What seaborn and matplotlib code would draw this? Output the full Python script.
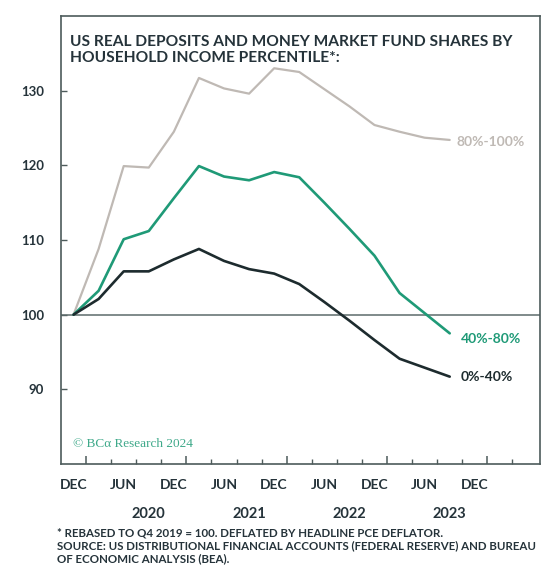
import matplotlib
matplotlib.use("Agg")
import matplotlib.pyplot as plt
import seaborn as sns
import pandas as pd

# Quarterly observations, Q4 2019 = 100
quarters = ["2019Q4", "2020Q1", "2020Q2", "2020Q3", "2020Q4", "2021Q1", "2021Q2", "2021Q3",
            "2021Q4", "2022Q1", "2022Q2", "2022Q3", "2022Q4", "2023Q1", "2023Q2", "2023Q3"]
top_80_100 = [100.0, 108.8, 119.9, 119.7, 124.5, 131.7, 130.3, 129.6,
              133.0, 132.5, 130.2, 127.9, 125.4, 124.5, 123.7, 123.4]
mid_40_80 = [100.0, 103.2, 110.1, 111.2, 115.6, 119.9, 118.5, 118.0,
             119.1, 118.4, 115.0, 111.5, 107.9, 102.9, 100.2, 97.5]
low_0_40 = [100.0, 102.1, 105.8, 105.8, 107.4, 108.8, 107.2, 106.1,
            105.5, 104.1, 101.7, 99.2, 96.6, 94.1, 92.9, 91.7]

series_names = ["80%-100%", "40%-80%", "0%-40%"]
month_labels = ["DEC", "JUN", "DEC", "JUN", "DEC", "JUN", "DEC", "JUN", "DEC"]
year_labels = ["2020", "2021", "2022", "2023"]
y_ticks = [90, 100, 110, 120, 130]

title_text = "US REAL DEPOSITS AND MONEY MARKET FUND SHARES BY\nHOUSEHOLD INCOME PERCENTILE*:"
footnote = ("* REBASED TO Q4 2019 = 100. DEFLATED BY HEADLINE PCE DEFLATOR.\n"
            "SOURCE: US DISTRIBUTIONAL FINANCIAL ACCOUNTS (FEDERAL RESERVE) AND BUREAU\n"
            "OF ECONOMIC ANALYSIS (BEA).")

TEXT = "#25333a"
FRAME = "#4d5b5b"
colors = {"80%-100%": "#bfb9b4", "40%-80%": "#1f9a77", "0%-40%": "#1d2b2e"}

rows = []
for name, vals in zip(series_names, [top_80_100, mid_40_80, low_0_40]):
    for i, (q, v) in enumerate(zip(quarters, vals)):
        rows.append({"t": i, "quarter": q, "series": name, "value": v})
df = pd.DataFrame(rows)

sns.set_theme(style="white")
plt.rcParams["font.family"] = ["Lato", "DejaVu Sans"]

fig = plt.figure(figsize=(5.47, 5.66), dpi=100)
ax = fig.add_axes([61 / 547, 1 - 464 / 566, 479 / 547, 448 / 566])

ax.axhline(100, color="#5c6b6b", lw=1.1, zorder=1)
sns.lineplot(data=df, x="t", y="value", hue="series", hue_order=series_names,
             palette=colors, ax=ax, legend=False, zorder=3)
for line, lw in zip(ax.lines[1:], [1.6, 1.9, 1.9]):
    line.set_linewidth(lw)

ax.set_xlim(-0.5, 18.6)
ax.set_ylim(80, 140)
ax.set_xlabel("")
ax.set_ylabel("")

for sp in ax.spines.values():
    sp.set_color(FRAME)
    sp.set_linewidth(1.2)

# y axis
ax.set_yticks(y_ticks)
ax.set_yticklabels([str(v) for v in y_ticks])
ax.tick_params(axis="y", left=True, direction="in", length=4, width=1, color=FRAME,
               pad=12, labelsize=9.5, labelcolor=TEXT)
for lab in ax.get_yticklabels():
    lab.set_fontweight("bold")

# x axis tick marks between quarters, taller at year boundaries
n = len(quarters)
ax.set_xticks([k + 0.5 for k in range(0, 18, 4)])
ax.set_xticks([k + 0.5 for k in range(18) if k % 4 != 0], minor=True)
ax.tick_params(axis="x", which="major", bottom=True, direction="in", length=6,
               width=1.1, color=FRAME, labelbottom=False)
ax.tick_params(axis="x", which="minor", bottom=True, direction="in", length=3.5,
               width=1, color=FRAME)

# month labels
sec_m = ax.secondary_xaxis("bottom")
sec_m.set_xticks(list(range(0, 17, 2)))
sec_m.set_xticklabels(month_labels)
sec_m.tick_params(length=0, pad=11, labelsize=10, labelcolor=TEXT)
sec_m.spines["bottom"].set_visible(False)
for lab in sec_m.get_xticklabels():
    lab.set_fontweight("bold")

# year labels
sec_y = ax.secondary_xaxis("bottom")
sec_y.set_xticks([3, 7, 11, 15])
sec_y.set_xticklabels(year_labels)
sec_y.tick_params(length=0, pad=31, labelsize=10.5, labelcolor=TEXT)
sec_y.spines["bottom"].set_visible(False)
for lab in sec_y.get_xticklabels():
    lab.set_fontweight("bold")

# title inside the panel
ax.text(0.019, 0.958, title_text, transform=ax.transAxes, ha="left", va="top",
        fontsize=11.2, fontweight="bold", color=TEXT, linespacing=1.2, zorder=5)

# end-of-line labels
offsets = {"80%-100%": (5, -1.5), "40%-80%": (8, -4), "0%-40%": (8, -0.5)}
for name, vals in zip(series_names, [top_80_100, mid_40_80, low_0_40]):
    ax.annotate(name, xy=(n - 1, vals[-1]), xytext=offsets[name],
                textcoords="offset points", ha="left", va="center",
                fontsize=10, fontweight="bold", color=colors[name])

ax.text(0.025, 0.045, "\u00a9 BC\u03b1 Research 2024", transform=ax.transAxes,
        ha="left", va="center", fontsize=9.5, color="#3fa98a",
        family=["Liberation Serif", "DejaVu Serif"])

fig.text(57 / 547, 1 - 527 / 566, footnote, ha="left", va="top", fontsize=8.3,
         fontweight="bold", color=TEXT, linespacing=1.25)

fig.savefig("out.png", dpi=100)
